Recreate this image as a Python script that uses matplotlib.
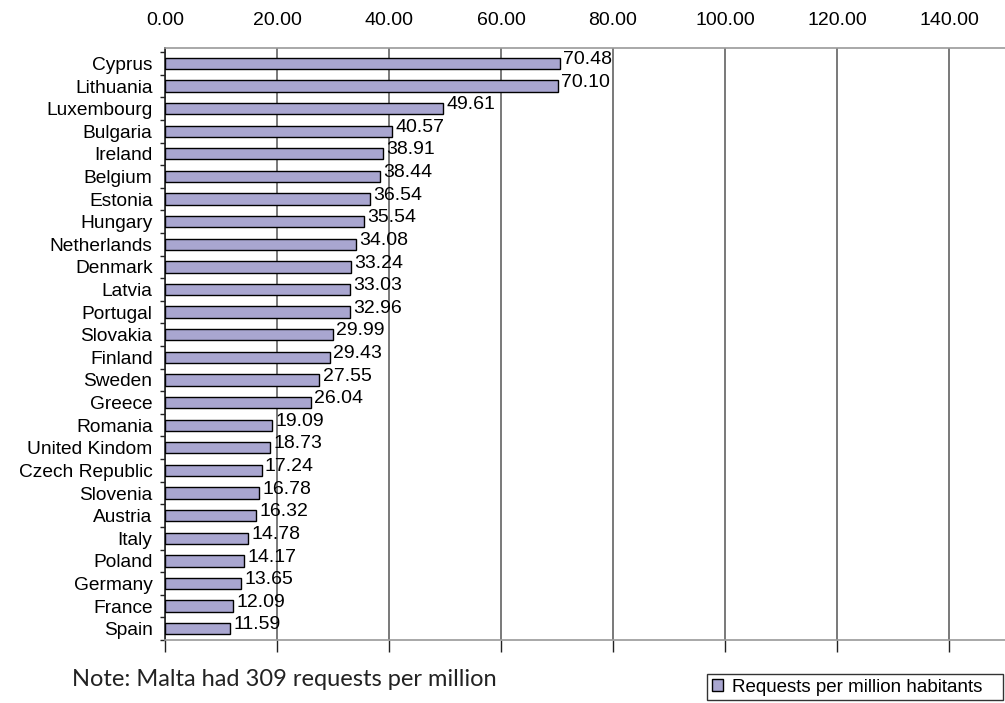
import matplotlib.pyplot as plt
import numpy as np

countries = ["Cyprus", "Lithuania", "Luxembourg", "Bulgaria", "Ireland", "Belgium",
             "Estonia", "Hungary", "Netherlands", "Denmark", "Latvia", "Portugal",
             "Slovakia", "Finland", "Sweden", "Greece", "Romania", "United Kindom",
             "Czech Republic", "Slovenia", "Austria", "Italy", "Poland", "Germany",
             "France", "Spain"]
requests = [70.48, 70.10, 49.61, 40.57, 38.91, 38.44, 36.54, 35.54, 34.08, 33.24,
            33.03, 32.96, 29.99, 29.43, 27.55, 26.04, 19.09, 18.73, 17.24, 16.78,
            16.32, 14.78, 14.17, 13.65, 12.09, 11.59]
xticks = [0, 20, 40, 60, 80, 100, 120, 140]

plt.rcParams['font.family'] = ['Liberation Sans', 'DejaVu Sans']

fig = plt.figure(figsize=(10.05, 7.03), dpi=100)
ax = fig.add_axes([0.1642, 0.0896, 0.8358, 0.8421])

y = np.arange(len(countries))
bars = ax.barh(y, requests, height=0.5, color="#a9a6d0", edgecolor="black",
               linewidth=1, zorder=3, label="Requests per million habitants   ")

for yi, v in zip(y, requests):
    ax.text(v + 0.6, yi - 0.17, f"{v:.2f}", fontsize=14, va="center", ha="left", zorder=4)

ax.set_xlim(0, 150)
ax.set_ylim(len(countries) - 0.5, -0.68)

ax.set_xticks(xticks)
ax.set_xticklabels([f"{t:.2f}" for t in xticks], fontsize=14)
ax.tick_params(axis="x", top=False, labeltop=True, bottom=True, labelbottom=False,
               direction="out", length=8.6, width=1, color="#222222", pad=5)
ax.xaxis.grid(True, color="#555555", linewidth=1.1, zorder=0)

ax.set_yticks(y)
ax.set_yticklabels(countries, fontsize=13.8)
ax.set_yticks(np.arange(len(countries) + 1) - 0.5, minor=True)
ax.tick_params(axis="y", which="major", length=0, pad=9)
ax.tick_params(axis="y", which="minor", length=3.6, width=1, color="#222222")

ax.spines["right"].set_visible(False)
ax.spines["top"].set_color("#999999")
ax.spines["bottom"].set_color("#999999")
ax.spines["left"].set_color("#222222")
for s in ax.spines.values():
    s.set_linewidth(1.2)

fig.text(0.072, 0.033, "Note: Malta had 309 requests per million",
         fontsize=17, family=["Lato", "DejaVu Sans"], va="center", color="#222222")

leg = fig.legend(handles=[bars], loc="lower right", bbox_to_anchor=(0.998, 0.004),
                 fontsize=13.5, frameon=True, fancybox=False, edgecolor="black",
                 handlelength=0.6, handleheight=0.6, handletextpad=0.5,
                 borderpad=0.25, borderaxespad=0)
leg.get_frame().set_linewidth(1)

fig.savefig("out.png", dpi=100)
